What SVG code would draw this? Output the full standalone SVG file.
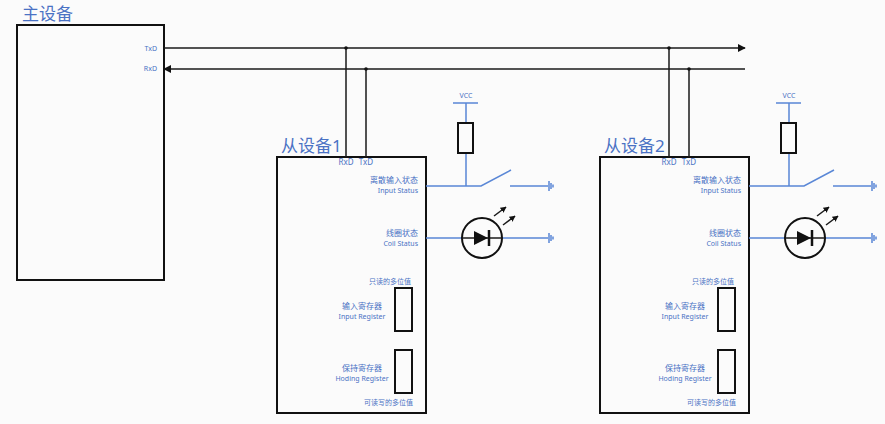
<svg xmlns="http://www.w3.org/2000/svg" width="885" height="424" viewBox="0 0 885 424">
<defs>
<style>
.box{fill:none;stroke:#111;stroke-width:2}
.bl{stroke:#1a1a1a;stroke-width:1.5;fill:none}
.b{stroke:#5a87d6;stroke-width:1.5;fill:none}
.t{font-family:"Noto Sans","Noto Sans CJK SC",sans-serif;fill:#4a72c4}
.s{font-size:7px}
.m{font-size:8px}
.h{font-size:17px}
</style>
<marker id="ar" viewBox="0 0 10 10" refX="9" refY="5" markerWidth="8" markerHeight="8" markerUnits="userSpaceOnUse" orient="auto"><path d="M0,0L10,5L0,10z" fill="#111"/></marker>
<marker id="sa" viewBox="0 0 10 10" refX="9" refY="5" markerWidth="6" markerHeight="6" markerUnits="userSpaceOnUse" orient="auto"><path d="M0,0L10,5L0,10z" fill="#111"/></marker>
<g id="gnd"><path class="b" d="M0,-5V5M2,-3V3M4,-1.5V1.5"/></g>
<g id="slave">
<rect class="box" x="277" y="157" width="149" height="256"/>
<text class="t m" x="346" y="165" text-anchor="middle">RxD</text>
<text class="t m" x="366" y="165" text-anchor="middle">TxD</text>
<text class="t m" x="418" y="183" text-anchor="end">离散输入状态</text>
<text class="t s" x="418" y="193" text-anchor="end">Input Status</text>
<text class="t m" x="418" y="236" text-anchor="end">线圈状态</text>
<text class="t s" x="418" y="246" text-anchor="end">Coil Status</text>
<text class="t s" x="411" y="284" text-anchor="end">只读的多位值</text>
<text class="t m" x="362" y="309" text-anchor="middle">输入寄存器</text>
<text class="t s" x="362" y="319" text-anchor="middle">Input Register</text>
<text class="t m" x="362" y="371" text-anchor="middle">保持寄存器</text>
<text class="t s" x="362" y="381" text-anchor="middle">Hoding Register</text>
<text class="t s" x="413" y="405" text-anchor="end">可读写的多位值</text>
<rect class="box" x="395" y="288" width="17" height="43"/>
<rect class="box" x="395" y="350" width="17" height="43"/>
<text class="t s" x="466" y="98" text-anchor="middle">VCC</text>
<path class="b" d="M453,103H478M466,103V123M466,153V186M426,186H481L511,170M510,186H548"/>
<rect class="box" x="458" y="123" width="15" height="30"/>
<use href="#gnd" x="549" y="186"/>
<path class="b" d="M426,238H462M502,238H548"/>
<use href="#gnd" x="549" y="238"/>
<circle cx="482" cy="238" r="20" class="box"/>
<path d="M462,238H502" class="bl" stroke-width="2"/>
<path d="M474,231L488,238L474,245z" fill="#111"/>
<path d="M489,230V246" stroke="#111" stroke-width="2.5"/>
<path class="bl" d="M494,216L506,207" marker-end="url(#sa)"/>
<path class="bl" d="M503,225L515,216" marker-end="url(#sa)"/>
</g>
</defs>
<rect width="885" height="424" fill="#fbfbfb"/>
<g id="master">
<rect class="box" x="17" y="25" width="147" height="255"/>
<text class="t h" x="22" y="20">主设备</text>
<text class="t s" x="157" y="51" text-anchor="end">TxD</text>
<text class="t s" x="157" y="71" text-anchor="end">RxD</text>
</g>
<g id="slave1">
<use href="#slave"/>
<text class="t h" x="281" y="152">从设备1</text>
</g>
<g id="slave2">
<use href="#slave" x="323"/>
<text class="t h" x="604" y="152">从设备2</text>
</g>
<g id="connectors">
<path class="bl" d="M164,48H745" marker-end="url(#ar)"/>
<path class="bl" d="M745,69H164" marker-end="url(#ar)"/>
<path class="bl" d="M346,48V157M366,69V157M669,48V157M689,69V157"/>
<circle cx="346" cy="48" r="1.8" fill="#111"/>
<circle cx="366" cy="69" r="1.8" fill="#111"/>
<circle cx="669" cy="48" r="1.8" fill="#111"/>
<circle cx="689" cy="69" r="1.8" fill="#111"/>
</g>
</svg>
